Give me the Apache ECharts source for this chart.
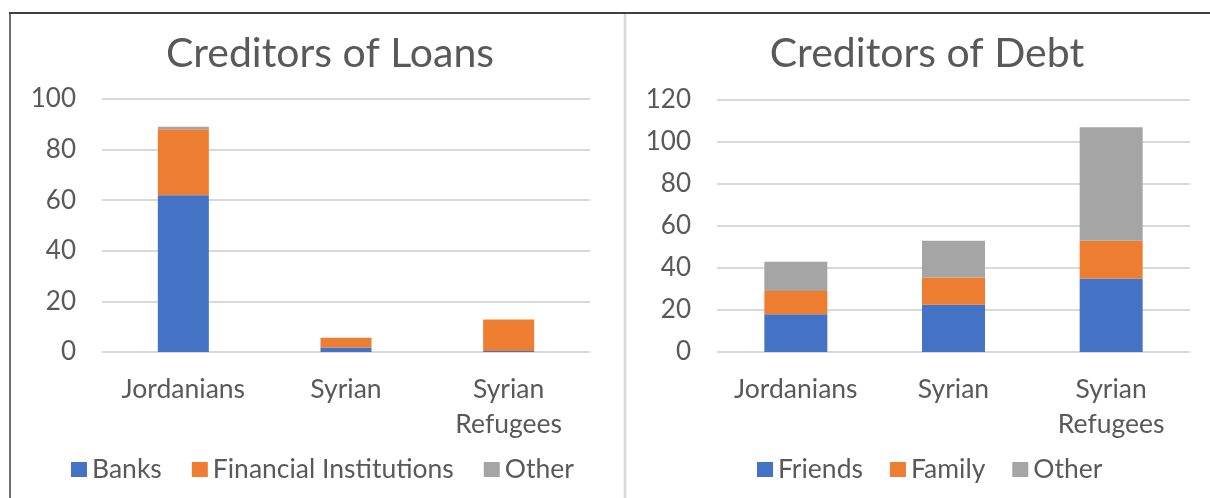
<!DOCTYPE html>
<html>
<head>
<meta charset="utf-8">
<script src="https://cdn.jsdelivr.net/npm/echarts@6/dist/echarts.min.js"></script>
<style>
html,body{margin:0;padding:0;background:#fff;}
#chart{width:1210px;height:498px;}
</style>
</head>
<body>
<div id="chart"></div>
<script>
// ---- data ----
var categories = ['Jordanians', 'Syrian', 'Syrian\nRefugees'];

var loansTitle = 'Creditors of Loans';
var loansBanks = [62, 1.8, 0.4];
var loansFinancial = [26, 3.8, 12.4];
var loansOther = [1, 0, 0];
var loansTicks = [0, 20, 40, 60, 80, 100];

var debtTitle = 'Creditors of Debt';
var debtFriends = [18, 22.5, 35];
var debtFamily = [11, 13, 18];
var debtOther = [14, 17.5, 54];
var debtTicks = [0, 20, 40, 60, 80, 100, 120];

var BLUE = '#4472C4', ORANGE = '#ED7D31', GRAY = '#A5A5A5', TXT = '#595959', GRID = '#D9D9D9';
var FONT = 'Lato';

var chart = echarts.init(document.getElementById('chart'), null, {renderer: 'canvas'});

function yAxis(idx, ticks) {
  return {
    type: 'value', gridIndex: idx,
    min: ticks[0], max: ticks[ticks.length - 1], interval: ticks[1] - ticks[0],
    axisLine: {show: false}, axisTick: {show: false},
    axisLabel: {color: TXT, fontFamily: FONT, fontSize: 26, margin: 26},
    splitLine: {lineStyle: {color: GRID, width: 2}}
  };
}
function xAxis(idx) {
  return {
    type: 'category', gridIndex: idx, data: categories,
    axisLine: {show: false}, axisTick: {show: false},
    axisLabel: {color: TXT, fontFamily: FONT, fontSize: 26.5, lineHeight: 35, margin: 20, interval: 0}
  };
}
function bar(name, data, color, stack, idx, width) {
  return {
    name: name, type: 'bar', stack: stack, data: data,
    xAxisIndex: idx, yAxisIndex: idx, barWidth: width,
    itemStyle: {color: color}, emphasis: {disabled: true}, animation: false
  };
}

chart.setOption({
  animation: false,
  title: [
    {text: loansTitle, left: 325, top: 28, textAlign: 'center',
     textStyle: {color: TXT, fontFamily: FONT, fontSize: 41, fontWeight: 'normal'}},
    {text: debtTitle, left: 922, top: 28, textAlign: 'center',
     textStyle: {color: TXT, fontFamily: FONT, fontSize: 41, fontWeight: 'normal'}}
  ],
  legend: [
    {data: ['Banks', 'Financial Institutions', 'Other'], left: 66, top: 451,
     itemWidth: 16, itemHeight: 15, itemGap: 30, icon: 'rect',
     textStyle: {color: TXT, fontFamily: FONT, fontSize: 26.5}},
    {data: ['Friends', 'Family', 'Other'], left: 752, top: 451,
     itemWidth: 16, itemHeight: 15, itemGap: 27, icon: 'rect',
     textStyle: {color: TXT, fontFamily: FONT, fontSize: 26.5}}
  ],
  grid: [
    {left: 102, right: 620, top: 99, bottom: 146, containLabel: false},
    {left: 717, right: 20, top: 100, bottom: 146, containLabel: false}
  ],
  xAxis: [xAxis(0), xAxis(1)],
  yAxis: [yAxis(0, loansTicks), yAxis(1, debtTicks)],
  series: [
    bar('Banks', loansBanks, BLUE, 'loans', 0, 51),
    bar('Financial Institutions', loansFinancial, ORANGE, 'loans', 0, 51),
    bar('Other', loansOther, GRAY, 'loans', 0, 51),
    bar('Friends', debtFriends, BLUE, 'debt', 1, 63),
    bar('Family', debtFamily, ORANGE, 'debt', 1, 63),
    bar('Other', debtOther, GRAY, 'debt', 1, 63)
  ],
  graphic: [
    {type: 'line', shape: {x1: 9, y1: 13, x2: 1210, y2: 13}, style: {stroke: '#404040', lineWidth: 2}},
    {type: 'line', shape: {x1: 10, y1: 13, x2: 10, y2: 498}, style: {stroke: '#404040', lineWidth: 1.5}},
    {type: 'line', shape: {x1: 625, y1: 14, x2: 625, y2: 498}, style: {stroke: '#D9D9D9', lineWidth: 2.5}}
  ]
});
</script>
</body>
</html>
